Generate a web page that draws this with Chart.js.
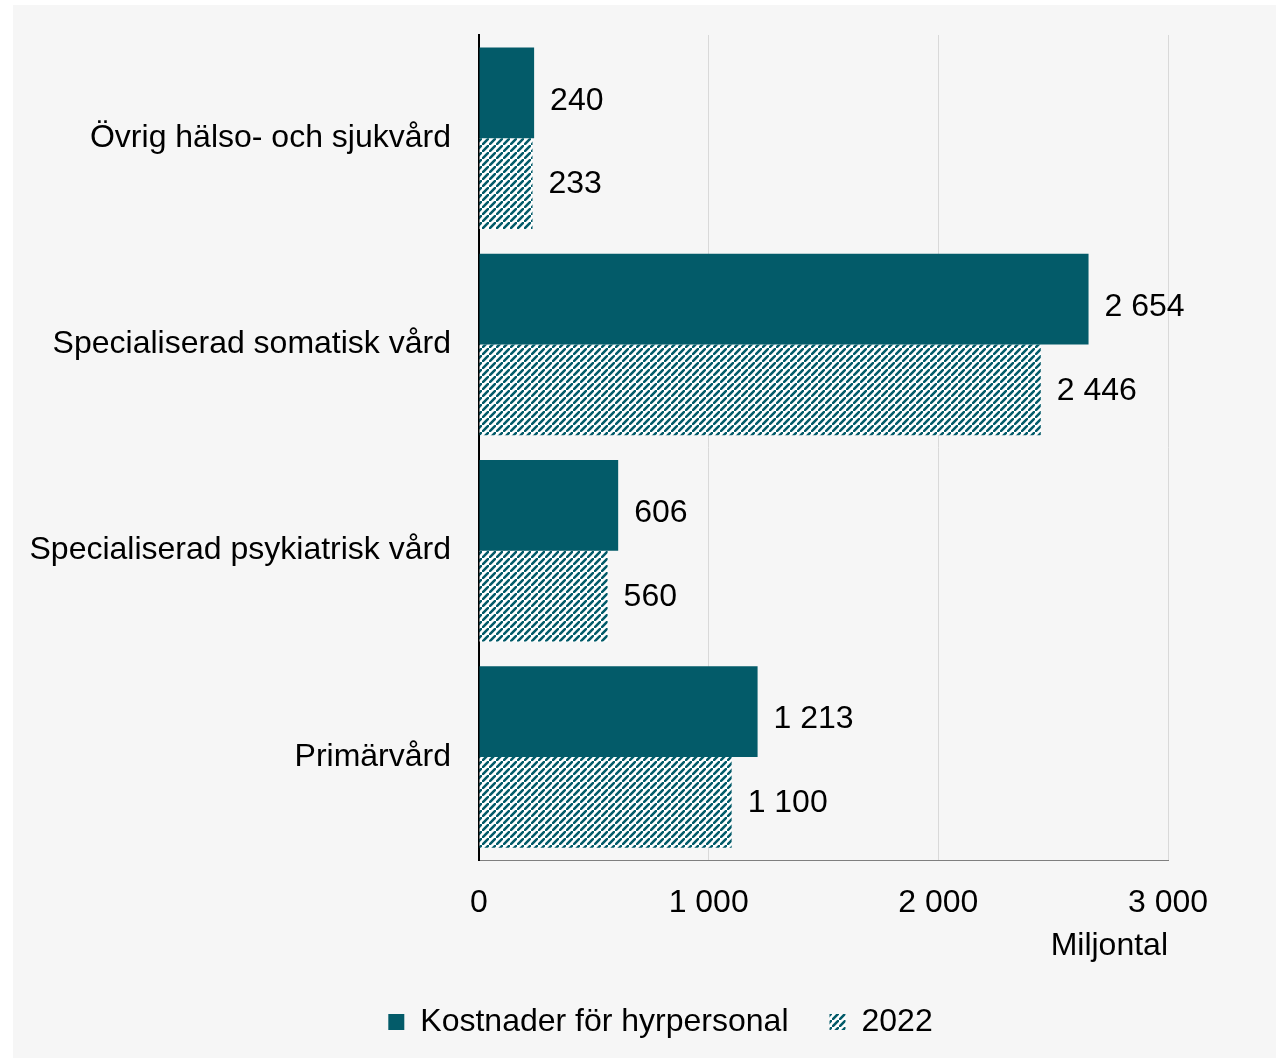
<!DOCTYPE html>
<html>
<head>
<meta charset="utf-8">
<script src="https://cdn.jsdelivr.net/npm/chart.js@4"></script>
<style>
  html, body { margin: 0; padding: 0; background: #ffffff; }
  #wrap { position: absolute; left: 13px; top: 5px; width: 1263px; height: 1053px; background: #f6f6f6; }
</style>
</head>
<body>
<div id="wrap"><canvas id="hyrChart" width="1263" height="1053"></canvas></div>
<script>
var categories = ['Övrig hälso- och sjukvård', 'Specialiserad somatisk vård', 'Specialiserad psykiatrisk vård', 'Primärvård'];
var hyrpersonal = [240, 2654, 606, 1213];
var year2022 = [233, 2446, 560, 1100];
var xTicks = [0, 1000, 2000, 3000];

var teal = '#035b69';
var font = 'Liberation Sans, Arial, sans-serif';

function fmt(v) {
    return String(v).replace(/\B(?=(\d{3})+(?!\d))/g, ' ');
}

// diagonal stripes for 2022
function makeHatch() {
    var n = 7;
    var c = document.createElement('canvas');
    c.width = n; c.height = n;
    var g = c.getContext('2d');
    g.fillStyle = '#ffffff';
    g.fillRect(0, 0, n, n);
    g.strokeStyle = teal;
    g.lineWidth = 2.6;
    g.beginPath();
    g.moveTo(-1, n + 1); g.lineTo(n + 1, -1);
    g.moveTo(-n - 1, 1); g.lineTo(1, -n - 1);
    g.moveTo(n - 1, 2 * n + 1); g.lineTo(2 * n + 1, n - 1);
    g.stroke();
    return g.createPattern(c, 'repeat');
}

// value labels after bar ends
var valueLabels = {
    id: 'valueLabels',
    afterDatasetsDraw: function (chart) {
        var ctx = chart.ctx;
        ctx.save();
        ctx.font = '32px ' + font;
        ctx.fillStyle = '#000000';
        ctx.textAlign = 'left';
        ctx.textBaseline = 'middle';
        chart.data.datasets.forEach(function (ds, di) {
            chart.getDatasetMeta(di).data.forEach(function (bar, i) {
                ctx.fillText(fmt(ds.data[i]), bar.x + 16, bar.y + (di === 0 ? 8 : 1));
            });
        });
        ctx.restore();
    }
};

// legend sits centred under the plot, not the whole canvas
var shiftLegend = {
    id: 'shiftLegend',
    afterLayout: function (chart) {
        chart.legend.left += 70;
        chart.legend.right += 70;
    }
};

var ctx = document.getElementById('hyrChart').getContext('2d');
new Chart(ctx, {
    type: 'bar',
    data: {
        labels: categories,
        datasets: [
            {
                label: 'Kostnader för hyrpersonal',
                data: hyrpersonal,
                backgroundColor: teal,
                categoryPercentage: 0.88,
                barPercentage: 1.0
            },
            {
                label: '2022',
                data: year2022,
                backgroundColor: makeHatch(),
                categoryPercentage: 0.88,
                barPercentage: 1.0
            }
        ]
    },
    plugins: [valueLabels, shiftLegend],
    options: {
        indexAxis: 'y',
        responsive: false,
        animation: false,
        layout: { padding: { left: 0, right: 108, top: 30, bottom: 10 } },
        plugins: {
            legend: {
                position: 'bottom',
                labels: {
                    font: { family: font, size: 32 },
                    color: '#000000',
                    boxWidth: 16,
                    boxHeight: 16,
                    padding: 41
                }
            },
            tooltip: { enabled: false }
        },
        scales: {
            x: {
                min: 0,
                max: 3000,
                afterBuildTicks: function (scale) {
                    scale.ticks = xTicks.map(function (v) { return { value: v }; });
                },
                afterFit: function (scale) { scale.height = 105; },
                grid: { color: '#d9d9d9', lineWidth: 1, drawTicks: false },
                border: { display: true, color: '#7f7f7f', width: 1 },
                ticks: {
                    padding: 24,
                    color: '#000000',
                    font: { family: font, size: 32 },
                    callback: function (v) { return fmt(v); }
                },
                title: {
                    display: true,
                    text: 'Miljontal',
                    align: 'end',
                    color: '#000000',
                    font: { family: font, size: 32 },
                    padding: { top: 0, bottom: 0 }
                }
            },
            y: {
                afterFit: function (scale) {
                    scale.width = 466;
                    scale.paddingTop = 0;
                    scale.paddingBottom = 0;
                },
                grid: { display: false, drawTicks: false },
                border: { display: true, color: '#000000', width: 2 },
                ticks: {
                    padding: 28,
                    color: '#000000',
                    font: { family: font, size: 32 }
                }
            }
        }
    }
});
</script>
</body>
</html>
